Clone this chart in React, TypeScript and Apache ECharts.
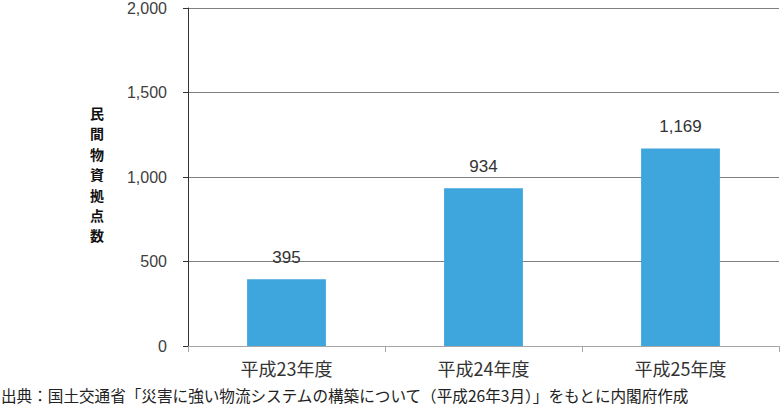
import React, { useEffect, useRef } from "react";
import * as echarts from "echarts";

const categories = ["平成23年度", "平成24年度", "平成25年度"];
const values = [395, 934, 1169];
const yTicks = [0, 500, 1000, 1500, 2000];
const yAxisName = "民間物資拠点数";
const sourceText = "出典：国土交通省「災害に強い物流システムの構築について（平成26年3月）」をもとに内閣府作成";

export default function App() {
  const ref = useRef<HTMLDivElement>(null);
  useEffect(() => {
    if (!ref.current) return;
    const chart = echarts.init(ref.current, null, { renderer: "svg" });
    const fmt = (v: number) => v.toLocaleString("en-US");
    const nameChars = yAxisName.split("").map((ch, i) => ({
      type: "text",
      left: 90,
      top: 103 + i * 20.4,
      style: {
        text: ch,
        fontSize: 14,
        lineHeight: 20,
        fontWeight: "bold",
        fill: "#111111",
        fontFamily: "'Noto Sans CJK JP', sans-serif",
      },
    }));
    chart.setOption({
      animation: false,
      backgroundColor: "#ffffff",
      grid: { left: 188, right: 1, top: 6, bottom: 58, containLabel: false },
      xAxis: {
        type: "category",
        data: categories,
        axisLine: { show: true, lineStyle: { color: "#a6a6a6", width: 1 } },
        axisTick: { show: true, length: 6, lineStyle: { color: "#a6a6a6" } },
        axisLabel: {
          color: "#333333",
          fontSize: 18,
          margin: 13,
          fontFamily: "'Noto Sans CJK JP', sans-serif",
        },
      },
      yAxis: {
        type: "value",
        min: yTicks[0],
        max: yTicks[yTicks.length - 1],
        interval: 500,
        axisLine: { show: true, lineStyle: { color: "#333333", width: 1 } },
        axisTick: { show: true, length: 5, lineStyle: { color: "#333333" } },
        splitLine: { show: true, lineStyle: { color: "#808080", width: 1 } },
        axisLabel: {
          color: "#404040",
          fontSize: 16,
          margin: 21,
          fontFamily: "'Liberation Sans', 'DejaVu Sans', sans-serif",
          formatter: (v: number) => fmt(v),
        },
      },
      series: [
        {
          type: "bar",
          data: values,
          barWidth: "40%",
          itemStyle: { color: "#3ea5dd" },
          label: {
            show: true,
            position: "top",
            distance: 13,
            color: "#333333",
            fontSize: 17,
            fontFamily: "'Liberation Sans', 'DejaVu Sans', sans-serif",
            formatter: (p: any) => fmt(p.value),
          },
        },
      ],
      graphic: [
        ...nameChars,
        {
          type: "text",
          left: 1,
          top: 386,
          style: {
            text: sourceText,
            fontSize: 15.6,
            lineHeight: 17,
            fill: "#222222",
            fontFamily: "'Noto Sans CJK JP', serif",
          },
        },
      ],
    });
    return () => chart.dispose();
  }, []);
  return (
    <div
      ref={ref}
      style={{ position: "absolute", left: 0, top: 0, width: 780, height: 404 }}
    />
  );
}
